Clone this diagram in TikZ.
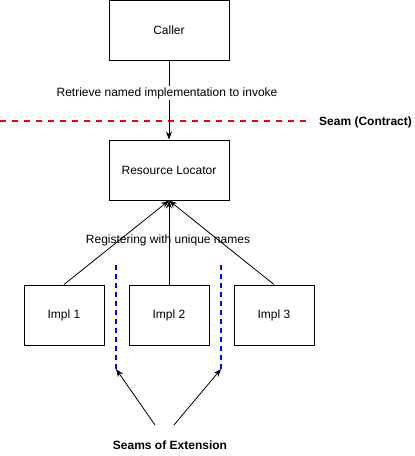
\documentclass[tikz,border=0pt]{standalone}
\usepackage{fontspec}
\setmainfont{Liberation Sans}
\usetikzlibrary{arrows.meta}
\begin{document}
\begin{tikzpicture}[x=1pt,y=-1pt,
  box/.style={draw,line width=1pt,minimum width=120pt,minimum height=60pt,inner sep=0pt,font=\fontsize{12}{14}\selectfont},
  smallbox/.style={box,minimum width=80pt},
  lbl/.style={font=\fontsize{12}{14}\selectfont,inner sep=1pt},
  blbl/.style={font=\fontsize{12}{14}\selectfont\bfseries,inner sep=1pt},
  arr/.style={line width=0.8pt,-{Stealth[length=8pt,width=6pt]}},
  seamred/.style={draw=red,line width=2pt,dash pattern=on 6pt off 6pt},
  seamblue/.style={draw=blue,line width=2pt,dash pattern=on 5pt off 4pt}]
\useasboundingbox (0,0) rectangle (415,456);
\node[box] (caller) at (169,30.5) {Caller};
\node[box] (rl) at (169,170) {Resource Locator};
\node[smallbox] (i1) at (64,315) {Impl 1};
\node[smallbox] (i2) at (169,315) {Impl 2};
\node[smallbox] (i3) at (274,315) {Impl 3};
\coordinate (r0) at (0,121);
\coordinate (r1) at (308,121);
\draw[seamred] (r0) -- (r1);
\node[blbl,anchor=west] (seam) at (318,122) {Seam (Contract)};
\draw[arr] (caller.south) -- (rl.north);
\node[lbl,fill=white] (retr) at (167,93) {Retrieve named implementation to invoke};
\draw[arr] (i1.north) -- (rl.south);
\draw[arr] (i2.north) -- (rl.south);
\draw[arr] (i3.north) -- (rl.south);
\node[lbl] (reg) at (168,240) {Registering with unique names};
\coordinate (b1a) at (116,265);
\coordinate (b1b) at (116,369);
\coordinate (b2a) at (221,265);
\coordinate (b2b) at (221,369);
\draw[seamblue] (b1a) -- (b1b);
\draw[seamblue] (b2a) -- (b2b);
\node[blbl] (ext) at (170,445) {Seams of Extension};
\coordinate (s1) at (155,425);
\coordinate (s2) at (174,425);
\draw[arr] (s1) -- (b1b);
\draw[arr] (s2) -- (b2b);
\end{tikzpicture}
\end{document}
